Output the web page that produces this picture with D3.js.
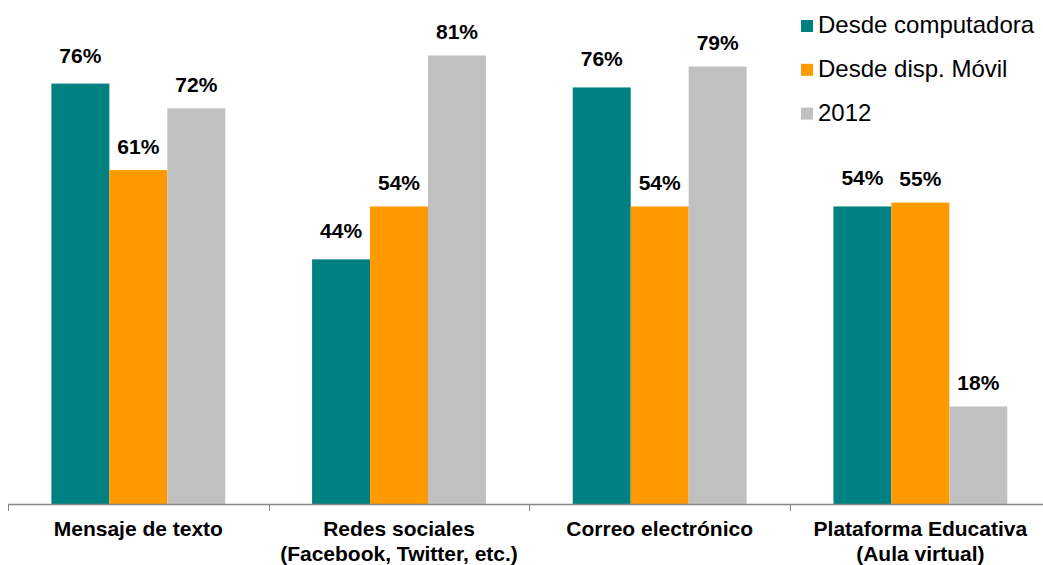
<!DOCTYPE html>
<html lang="es">
<head>
<meta charset="UTF-8">
<title>Uso por dispositivo</title>
<script src="https://d3js.org/d3.v7.min.js"></script>
<style>
  html, body { margin: 0; padding: 0; background: #fff; }
  svg { display: block; font-family: "Liberation Sans", Arial, sans-serif; }
</style>
</head>
<body>
<div id="chart"></div>
<script>
// data
const categories = [
  ["Mensaje de texto"],
  ["Redes sociales", "(Facebook, Twitter, etc.)"],
  ["Correo electrónico"],
  ["Plataforma Educativa", "(Aula virtual)"]
];
const seriesNames = ["Desde computadora", "Desde disp. Móvil", "2012"];
const computadora = [76.3, 44.4, 75.6, 54.0];
const movil = [60.6, 54.0, 54.0, 54.7];
const y2012 = [71.8, 81.4, 79.4, 17.7];

const colors = ["#008080", "#FF9900", "#C0C0C0"];
const labelGap = [21, 16.5, 16.5];

const W = 1043, H = 565;
const baseY = 504;

const svg = d3.select("#chart").append("svg")
  .attr("width", W)
  .attr("height", H);

const catKeys = categories.map(c => c.join(" "));
const allSeries = [computadora, movil, y2012];

const x0 = d3.scaleBand()
  .domain(catKeys)
  .range([8, 1050.7])
  .paddingInner(0.333)
  .paddingOuter(0.1665);

const x1 = d3.scaleBand()
  .domain(seriesNames)
  .range([0, x0.bandwidth()]);

const y = d3.scaleLinear()
  .domain([0, 100])
  .range([baseY, baseY - 551]);

// bars
const groups = svg.append("g").selectAll("g")
  .data(catKeys)
  .join("g")
  .attr("transform", d => "translate(" + x0(d) + ",0)");

groups.selectAll("rect")
  .data((d, i) => seriesNames.map((s, j) => ({ s: s, j: j, v: allSeries[j][i] })))
  .join("rect")
  .attr("x", d => x1(d.s))
  .attr("y", d => y(d.v))
  .attr("width", x1.bandwidth())
  .attr("height", d => y(0) - y(d.v))
  .attr("fill", d => colors[d.j]);

groups.selectAll("text")
  .data((d, i) => seriesNames.map((s, j) => ({ s: s, j: j, v: allSeries[j][i] })))
  .join("text")
  .attr("x", d => x1(d.s) + x1.bandwidth() / 2)
  .attr("y", d => y(d.v) - labelGap[d.j])
  .attr("text-anchor", "middle")
  .attr("font-size", "21px")
  .attr("font-weight", "bold")
  .attr("fill", "#000")
  .text(d => Math.round(d.v) + "%");

// axis line and ticks between categories
const axis = svg.append("g");
const step = x0.step();
const edge0 = x0(catKeys[0]) - step * x0.paddingOuter();

axis.append("line")
  .attr("x1", edge0).attr("x2", edge0 + step * catKeys.length)
  .attr("y1", baseY + 0.5).attr("y2", baseY + 0.5)
  .attr("stroke", "#868686")
  .attr("stroke-width", 1.5);

axis.selectAll(".tick")
  .data(d3.range(catKeys.length + 1))
  .join("line")
  .attr("class", "tick")
  .attr("x1", i => Math.round(edge0 + i * step) + 0.5)
  .attr("x2", i => Math.round(edge0 + i * step) + 0.5)
  .attr("y1", baseY)
  .attr("y2", baseY + 7)
  .attr("stroke", "#868686")
  .attr("stroke-width", 1);

// category labels
const catText = svg.append("g").selectAll("text")
  .data(categories)
  .join("text")
  .attr("text-anchor", "middle")
  .attr("font-size", "21px")
  .attr("font-weight", "bold")
  .attr("fill", "#000");

catText.selectAll("tspan")
  .data((d, i) => d.map(line => ({ line: line, key: catKeys[i] })))
  .join("tspan")
  .attr("x", d => x0(d.key) + x0.bandwidth() / 2)
  .attr("y", (d, k) => 536 + k * 25)
  .text(d => d.line);

// legend
const legend = svg.append("g")
  .attr("transform", "translate(801,0)");

const item = legend.selectAll("g")
  .data(seriesNames)
  .join("g")
  .attr("transform", (d, i) => "translate(0," + (20 + i * 43.8) + ")");

item.append("rect")
  .attr("width", 12)
  .attr("height", 12)
  .attr("fill", (d, i) => colors[i]);

item.append("text")
  .attr("x", 17)
  .attr("y", 13)
  .attr("font-size", "24px")
  .attr("fill", "#000")
  .text(d => d);
</script>
</body>
</html>
